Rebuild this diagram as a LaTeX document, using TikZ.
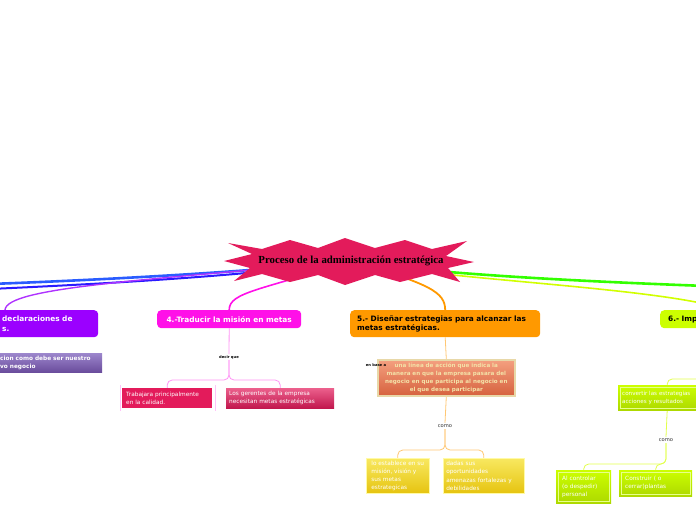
\documentclass[tikz,border=0pt]{standalone}
\usepackage{fontspec}
\setmainfont{DejaVu Sans}
\newfontfamily\titlefont{Liberation Serif}
\usepackage{tikz}
\usetikzlibrary{positioning,backgrounds,calc}
\definecolor{starRed}{HTML}{E31B5B}
\definecolor{purpN}{HTML}{9B00FF}
\definecolor{magN}{HTML}{FF10E8}
\definecolor{orangeN}{HTML}{FF9900}
\definecolor{limeN}{HTML}{CCFF00}
\definecolor{blueA}{HTML}{2A5CFF}
\definecolor{blueB}{HTML}{2A1AFF}
\definecolor{greenL}{HTML}{33FF00}
\definecolor{salmonTop}{HTML}{F4A080}
\definecolor{salmonBot}{HTML}{D6623E}
\definecolor{tanEdge}{HTML}{E8D8A8}
\definecolor{tanText}{HTML}{F4E2A8}
\definecolor{yelTop}{HTML}{F8E860}
\definecolor{yelBot}{HTML}{E6C410}
\definecolor{lavTop}{HTML}{9C86CC}
\definecolor{lavBot}{HTML}{6A4C9C}
\tikzset{
  branch/.style={rounded corners=4pt, anchor=north west, inner ysep=0pt,
                 font=\fontsize{7.4}{9.4}\selectfont\bfseries},
  leaf/.style={anchor=north west, inner ysep=0pt, align=left, text=white,
               font=\fontsize{5.8}{8.2}\selectfont},
  tag/.style={inner sep=1pt, font=\fontsize{3.7}{4}\selectfont\bfseries},
  caption/.style={inner sep=1.5pt, text=black!80, font=\fontsize{5.2}{6}\selectfont},
  inframe/.style={path picture={\draw[#1, line width=0.7pt]
      ([shift={(2pt,-2pt)}]path picture bounding box.north west) rectangle
      ([shift={(-2pt,2pt)}]path picture bounding box.south east);}},
  trunk/.style={line width=1.6pt},
  link/.style={line width=0.8pt, rounded corners=5pt}
}

\begin{document}
\begin{tikzpicture}[x=1pt, y=-1pt]
  \useasboundingbox (0,0) rectangle (696,520);

  % central star
  \fill[starRed] (224,261) -- (252,254) -- (228,243) -- (262,249) -- (290,240)
    -- (318,248) -- (345,238) -- (375,248) -- (405,240) -- (432,249) -- (467,241)
    -- (446,256) -- (474,262) -- (448,268) -- (460,282) -- (432,274) -- (400,282)
    -- (375,275) -- (345,285) -- (318,275) -- (290,282) -- (262,274) -- (234,281)
    -- (250,268) -- cycle;
  \node[font=\titlefont\fontsize{10.8}{12}\selectfont\bfseries] (title) at (351,261)
    {Proceso de la administración estratégica};

  % main branches
  \node[branch, fill=purpN, text=white, text width=88pt, align=left, inner xsep=8pt,
        minimum height=27pt] (n3) at (-6,310) {declaraciones de\\s.};
  \node[leaf, top color=lavTop, bottom color=lavBot,
        font=\fontsize{5.8}{8}\selectfont\bfseries, inner xsep=6pt,
        text width=96pt, minimum height=19pt] (p2) at (-6,353)
        {cion como debe ser nuestro\\vo negocio};
  \node[branch, fill=magN, text=white, minimum width=144pt, minimum height=18pt,
        inner xsep=0pt] (n4) at (157,310) {4.-Traducir la misión en metas};
  \node[branch, fill=orangeN, text=black, text width=176pt, align=left,
        inner xsep=7pt, minimum height=27pt] (n5) at (350,310)
        {5.- Diseñar estrategias para alcanzar las\\metas estratégicas.};
  \node[branch, fill=limeN, text=black, text width=120pt, align=left,
        inner xsep=8pt, minimum height=18pt] (n6) at (660,310) {6.- Imp};

  % under 4
  \node[tag] (decir) at (229,357) {decir que};
  \node[leaf, fill=starRed, text width=82pt, inner xsep=4pt, minimum height=20pt]
    (t1) at (122,388) {Trabajara principalmente\\en la calidad.};
  \node[leaf, top color=starRed!70!white, bottom color=starRed!85!black,
        text width=102pt, inner xsep=3pt, minimum height=20pt]
    (t2) at (226,388) {Los gerentes de la empresa\\necesitan metas estratégicas};
  \draw[magN!25, line width=0.6pt] ([shift={(-2pt,3pt)}]t1.north west) -- ([shift={(-2pt,-3pt)}]t1.south west);
  \draw[magN!25, line width=0.6pt] ([shift={(3pt,3pt)}]t1.north east) -- ([shift={(3pt,-3pt)}]t1.south east);

  % under 5
  \node[leaf, align=center, top color=salmonTop, bottom color=salmonBot,
        draw=tanEdge, line width=1.6pt, text=tanText,
        font=\fontsize{5.6}{8}\selectfont\bfseries, minimum width=137pt, inner xsep=1pt,
        minimum height=36pt] (s1) at (377,359)
        {una línea de acción que indica la\\manera en que la empresa pasara del\\negocio en que participa al negocio en\\el que desea participar};
  \node[tag] (base) at (376,365) {en base a};
  \node[caption] (como1) at (445,426) {como};
  \node[leaf, top color=yelTop, bottom color=yelBot,
        draw=yellow!35, line width=0.5pt, minimum width=63pt, inner xsep=1pt,
        minimum height=35pt] (y1) at (366,458)
        {lo establece en su\\misión, visión y\\sus metas\\estrategicas};
  \node[leaf, top color=yelTop, bottom color=yelBot,
        draw=yellow!35, line width=0.5pt, text width=75pt, inner xsep=3pt,
        minimum height=35pt] (y2) at (443,458)
        {dadas sus\\oportunidades\\amenazas fortalezas y\\debilidades};

  % under 6
  \node[leaf, top color=limeN, bottom color=limeN!85!black, inframe=limeN!45!white,
        font=\fontsize{5.6}{8}\selectfont, text width=90pt, inner xsep=4pt,
        minimum height=25pt] (cv) at (618,385)
        {convertir las estrategias\\acciones y resultados};
  \node[caption] (como2) at (666,440) {como};
  \node[leaf, top color=limeN, bottom color=limeN!85!black, inframe=limeN!45!white,
        text width=43pt, inner xsep=6pt, minimum height=33pt] (l1) at (556,470)
        {Al controlar\\(o despedir)\\personal};
  \node[leaf, top color=limeN, bottom color=limeN!85!black, inframe=limeN!45!white,
        text width=61pt, inner xsep=6pt, minimum height=26pt] (l2) at (619,470)
        {Construir ( o\\cerrar)plantas};

  \coordinate (offB1) at (-10,284);
  \coordinate (offB2) at (-10,289);
  \coordinate (offG) at (706,286);

  \begin{pgfonlayer}{background}
    \draw[trunk, blueA, line width=2.6pt] (title.center) .. controls (250,272) and (100,280) .. (offB1);
    \draw[trunk, blueB, line width=2pt] (title.center) .. controls (250,276) and (100,284) .. (offB2);
    \draw[trunk, purpN!80!white, line width=1.4pt] (title.center) .. controls (150,280) and (6,287) .. ([xshift=11pt]n3.north west);
    \draw[trunk, magN] (title.center) .. controls (262,290) and (229,292) .. (n4.north);
    \draw[trunk, orangeN, line width=1.8pt] (title.center) .. controls (430,284) and (445,292) .. (n5.north);
    \draw[trunk, greenL, line width=2.6pt] (title.center) .. controls (440,275) and (600,282) .. (offG);
    \draw[trunk, limeN!90!yellow, line width=1.6pt] (title.center) .. controls (440,280) and (660,287) .. (n6.north);

    \draw[link, magN!45] (n4.south) -- (decir.north);
    \draw[link, magN!45] (decir.south) |- (t1.north |- 0,380) -- (t1.north);
    \draw[link, magN!45] (decir.south) |- (t2.north |- 0,380) -- (t2.north);

    \draw[link, orangeN!55] (n5.south) -- (s1.north);
    \draw[link, orangeN!55] (s1.south) -- (como1.north);
    \draw[link, orangeN!55] (como1.south) |- (y1.north |- 0,450) -- (y1.north);
    \draw[link, orangeN!55] (como1.south) |- (y2.north |- 0,450) -- (y2.north);

    \draw[link, limeN!80!yellow!70!white] (n6.south) |- (cv.north |- 0,379) -- (cv.north);
    \draw[link, limeN!80!yellow!70!white] (cv.south) -- (como2.north);
    \draw[link, limeN!80!yellow!70!white] (como2.south) |- (l1.north |- 0,464) -- (l1.north);
    \draw[link, limeN!80!yellow!70!white] (como2.south) |- (l2.north |- 0,464) -- (l2.north);
  \end{pgfonlayer}
\end{tikzpicture}
\end{document}
